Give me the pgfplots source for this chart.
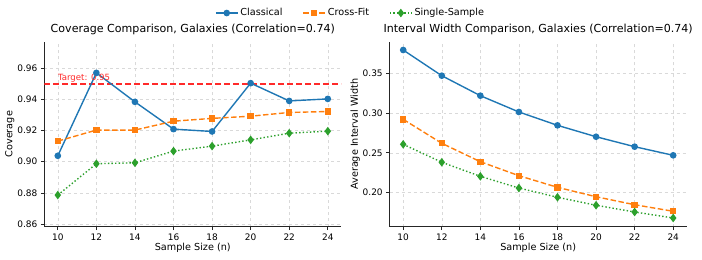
\documentclass[border=0pt]{standalone}
\usepackage{fontspec}
\setmainfont{DejaVu Sans}
\usepackage{pgfplots}
\pgfplotsset{compat=1.18}
\definecolor{cB}{HTML}{1F77B4}
\definecolor{cO}{HTML}{FF7F0E}
\definecolor{cG}{HTML}{2CA02C}
\definecolor{tgt}{HTML}{FF2A2A}
\pgfplotsset{
  base/.style={
    scale only axis, width=297bp, height=185bp,
    axis lines=left, axis line style={-, line width=0.8bp, black!85},
    xmin=9.3, xmax=24.7,
    xtick={10,12,...,24},
    tick align=outside, major tick length=3.5bp,
    tick style={black!85, line width=0.7bp},
    grid=major, grid style={dashed, gray!30, line width=0.5bp},
    ticklabel style={font=\fontsize{9}{10}\selectfont},
    label style={font=\fontsize{9.7}{11}\selectfont},
    title style={font=\fontsize{11.1}{12}\selectfont, yshift=-3bp},
    /pgf/number format/assume math mode=true,
    yticklabel style={/pgf/number format/.cd, fixed, fixed zerofill, precision=2},
    xlabel={Sample Size (n)},
    xlabel style={yshift=4bp},
  },
  cl/.style={cB, solid, line width=1.4bp, mark=*, mark size=2.6bp, mark options={solid}},
  cf/.style={cO, dashed, dash pattern=on 5.5bp off 2.5bp, line width=1.4bp, mark=square*, mark size=2.5bp, mark options={solid}},
  ss/.style={cG, dotted, dash pattern=on 1.4bp off 2.2bp, line width=1.4bp, mark=diamond*, mark size=3.2bp, mark options={solid}},
}
\begin{document}
\begin{tikzpicture}
\useasboundingbox (0,0) rectangle (702bp,260bp);
\begin{axis}[base, at={(44.3bp,33.3bp)}, anchor=south west,
  ymin=0.8583, ymax=0.977, ytick={0.86,0.88,0.90,0.92,0.94,0.96},
  ylabel={Coverage}, ylabel style={yshift=-4bp},
  title={Coverage Comparison, Galaxies (Correlation=0.74)},
  legend columns=3,
  legend style={at={(1.031,1.155)}, anchor=center, draw=none, fill=none,
    font=\fontsize{9.7}{11}\selectfont,
    /tikz/every even column/.append style={column sep=18bp}},
  legend image code/.code={\draw[#1] (0bp,0bp) -- (11bp,0bp) -- (22bp,0bp); \draw[#1, only marks] plot coordinates {(11bp,0bp)};},
]
\addplot[draw=tgt, line width=1.7bp, dash pattern=on 6bp off 3bp, mark=none, forget plot] coordinates {(9.3,0.95) (24.7,0.95)};
\addplot[cl] coordinates {(10,0.9038) (12,0.9570) (14,0.9384) (16,0.9209) (18,0.9194) (20,0.9504) (22,0.9390) (24,0.9403)};
\addlegendentry{Classical}
\addplot[cf] coordinates {(10,0.9132) (12,0.9203) (14,0.9203) (16,0.9260) (18,0.9278) (20,0.9292) (22,0.9316) (24,0.9322)};
\addlegendentry{Cross-Fit}
\addplot[ss] coordinates {(10,0.8786) (12,0.8987) (14,0.8993) (16,0.9068) (18,0.9100) (20,0.9140) (22,0.9183) (24,0.9196)};
\addlegendentry{Single-Sample}
\node[anchor=south west, text=tgt, inner sep=1bp, font=\fontsize{8.6}{10}\selectfont] at (axis cs:9.95,0.9505) {Target: 0.95};
\end{axis}
\begin{axis}[base, at={(389.7bp,33.3bp)}, anchor=south west,
  ymin=0.1565, ymax=0.3905, ytick={0.20,0.25,0.30,0.35},
  ylabel={Average Interval Width}, ylabel style={yshift=-4bp},
  title={Interval Width Comparison, Galaxies (Correlation=0.74)},
]
\addplot[cl] coordinates {(10,0.3800) (12,0.3475) (14,0.3222) (16,0.3016) (18,0.2847) (20,0.2703) (22,0.2577) (24,0.2468)};
\addplot[cf] coordinates {(10,0.2923) (12,0.2620) (14,0.2387) (16,0.2210) (18,0.2063) (20,0.1944) (22,0.1843) (24,0.1760)};
\addplot[ss] coordinates {(10,0.2607) (12,0.2380) (14,0.2202) (16,0.2054) (18,0.1937) (20,0.1836) (22,0.1751) (24,0.1675)};
\end{axis}
\end{tikzpicture}
\end{document}
